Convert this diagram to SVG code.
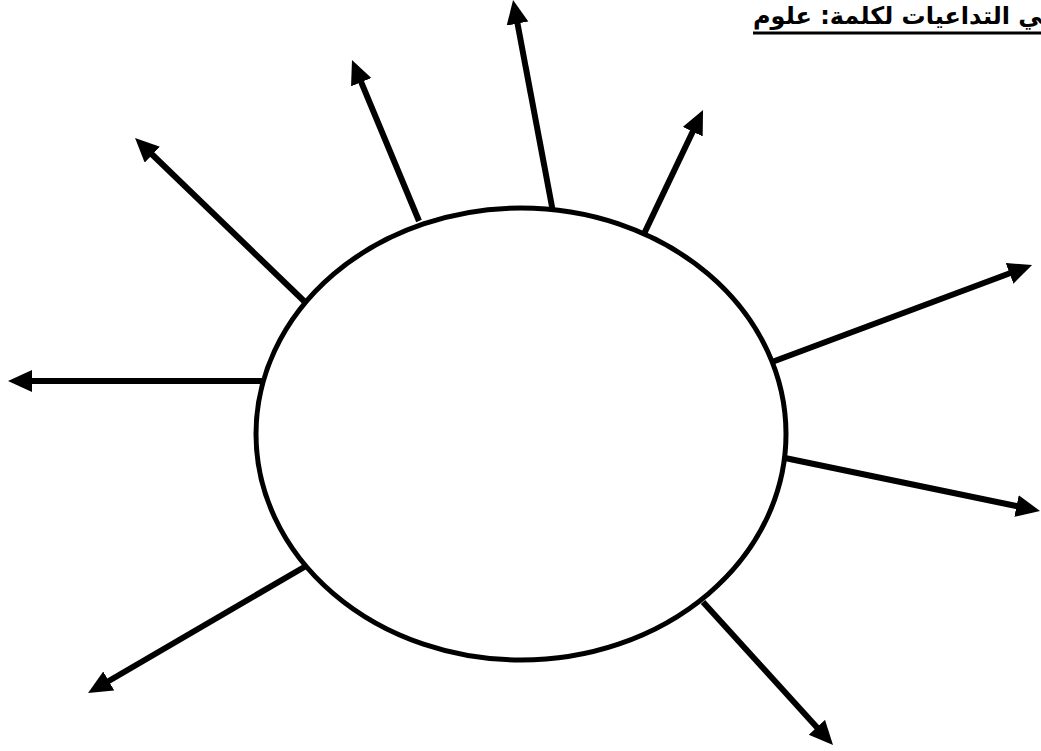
<svg xmlns="http://www.w3.org/2000/svg" width="1041" height="751" viewBox="0 0 1041 751">
<style>
.c{stroke:#000;stroke-width:6;fill:none;marker-end:url(#ah)}
.t{font-family:"DejaVu Sans","Noto Sans",sans-serif;font-weight:bold;font-size:24px;fill:#000}
</style>
<defs>
<marker id="ah" markerUnits="userSpaceOnUse" markerWidth="26" markerHeight="24" refX="6" refY="11" orient="auto">
<path d="M0,0 L24,11 L0,22 z" fill="#000"/>
</marker>
</defs>
<rect width="1041" height="751" fill="#fff"/>
<g id="title">
<text class="t" x="753" y="24" direction="rtl" text-anchor="end">في التداعيات لكلمة: علوم</text>
<line x1="753" y1="33" x2="1041" y2="33" stroke="#000" stroke-width="3"/>
</g>
<g id="connectors">
<line class="c" x1="553" y1="212" x2="516.4" y2="17.7"/>
<line class="c" x1="419" y1="221" x2="358.9" y2="76.6"/>
<line class="c" x1="306" y1="303" x2="148" y2="150.5"/>
<line class="c" x1="262" y1="381" x2="26" y2="381"/>
<line class="c" x1="306" y1="566" x2="103.6" y2="684"/>
<line class="c" x1="703" y1="602" x2="820.9" y2="731.7"/>
<line class="c" x1="785" y1="458" x2="1022.4" y2="507.3"/>
<line class="c" x1="772" y1="362" x2="1015.2" y2="271.3"/>
<line class="c" x1="643" y1="236" x2="695.3" y2="126.3"/>
</g>
<g id="center">
<ellipse cx="521" cy="434" rx="265" ry="226" fill="#fff" stroke="#000" stroke-width="5"/>
</g>
</svg>
